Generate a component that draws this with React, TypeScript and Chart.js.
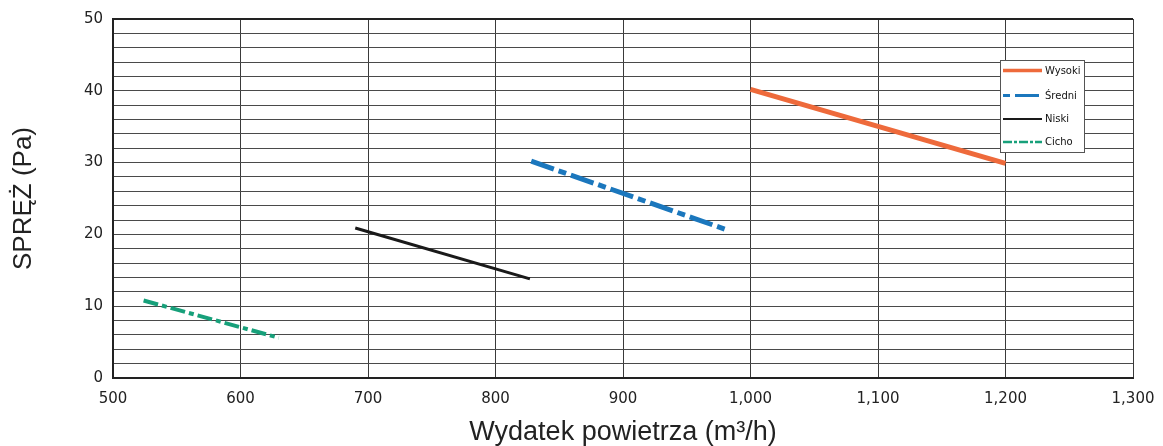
import React, { useEffect, useRef } from "react";
import { Chart, registerables } from "chart.js";

Chart.register(...registerables);

const FONT = "'Liberation Sans', Arial, sans-serif";
const WIDE = "'DejaVu Sans', Verdana, sans-serif";

const seriesNames = ["Wysoki", "Średni", "Niski", "Cicho"];
const seriesColors = ["#ee6a3b", "#1b77bd", "#1a1a1a", "#17a07a"];
const seriesWidths = [5, 5, 3, 4];
const seriesDashes: number[][] = [[], [24, 5, 8, 5], [], [15, 4, 5, 4]];
const legendDashes: number[][] = [[], [7, 5, 24, 5], [], [9, 2, 3, 2]];
const legendWidths = [3.5, 3, 2, 2.5];

const wysokiX = [1000, 1200];
const wysokiY = [40.2, 29.9];
const sredniX = [828, 982];
const sredniY = [30.2, 20.6];
const niskiX = [690, 827];
const niskiY = [20.9, 13.8];
const cichoX = [524, 630];
const cichoY = [10.8, 5.6];

const xValues = [wysokiX, sredniX, niskiX, cichoX];
const yValues = [wysokiY, sredniY, niskiY, cichoY];

const xMin = 500, xMax = 1300, xStep = 100;
const yMin = 0, yMax = 50, yStep = 2, yLabelStep = 10;

const xTitle = "Wydatek powietrza (m³/h)";
const yTitle = "SPRĘŻ (Pa)";

const legendPlugin = {
  id: "boxLegend",
  afterDraw(chart: any) {
    const ctx = chart.ctx;
    const area = chart.chartArea;
    ctx.save();
    ctx.strokeStyle = "#222";
    ctx.lineWidth = 2;
    ctx.beginPath();
    ctx.moveTo(area.left, area.top);
    ctx.lineTo(area.right, area.top);
    ctx.stroke();

    const x0 = 1000, y0 = 60, w = 84, h = 92;
    const rows = [70.5, 95.5, 119, 142];
    ctx.fillStyle = "#ffffff";
    ctx.fillRect(x0, y0, w, h);
    ctx.strokeStyle = "#555";
    ctx.lineWidth = 1;
    ctx.strokeRect(x0 + 0.5, y0 + 0.5, w, h);
    seriesNames.forEach((name, i) => {
      ctx.beginPath();
      ctx.strokeStyle = seriesColors[i];
      ctx.lineWidth = legendWidths[i];
      ctx.setLineDash(legendDashes[i]);
      ctx.moveTo(x0 + 3, rows[i]);
      ctx.lineTo(x0 + 42, rows[i]);
      ctx.stroke();
      ctx.setLineDash([]);
      ctx.fillStyle = "#111";
      ctx.font = `10px ${WIDE}`;
      ctx.textBaseline = "middle";
      ctx.textAlign = "left";
      ctx.fillText(name, x0 + 45, rows[i] + 0.5);
    });
    ctx.restore();
  },
};

export default function App() {
  const ref = useRef<HTMLCanvasElement>(null);
  useEffect(() => {
    const datasets = seriesNames.map((name, i) => ({
      label: name,
      data: xValues[i].map((x, j) => ({ x, y: yValues[i][j] })),
      borderColor: seriesColors[i],
      backgroundColor: seriesColors[i],
      borderWidth: seriesWidths[i],
      borderDash: seriesDashes[i],
      pointRadius: 0,
      fill: false,
      tension: 0,
    }));
    const chart = new Chart(ref.current as HTMLCanvasElement, {
      type: "line",
      data: { datasets },
      plugins: [legendPlugin],
      options: {
        animation: false,
        responsive: false,
        maintainAspectRatio: false,
        layout: { padding: { top: 17, right: 30, left: 0, bottom: 0 } },
        plugins: { legend: { display: false }, tooltip: { enabled: false }, title: { display: false } },
        scales: {
          x: {
            type: "linear",
            min: xMin,
            max: xMax,
            afterFit: (s: any) => { s.height = 68; s.paddingRight = 0; s.paddingLeft = 0; },
            ticks: {
              stepSize: xStep,
              padding: 12,
              color: "#222",
              font: { family: WIDE, size: 15 },
              callback: (v: any) => Number(v).toLocaleString("en-US"),
              maxRotation: 0,
            },
            grid: { color: "#3a3a3a", lineWidth: 1, drawTicks: false },
            border: { color: "#222", width: 2 },
            title: {
              display: true,
              text: xTitle,
              color: "#222",
              font: { family: FONT, size: 27, lineHeight: 1 },
              padding: { top: 0, bottom: 0 },
            },
          },
          y: {
            type: "linear",
            min: yMin,
            max: yMax,
            afterFit: (s: any) => { s.width = 113; },
            ticks: {
              stepSize: yStep,
              autoSkip: false,
              padding: 10,
              color: "#222",
              font: { family: WIDE, size: 15 },
              callback: (v: any) => (Number(v) % yLabelStep === 0 ? String(v) : ""),
            },
            grid: { color: "#4a4a4a", lineWidth: 1, drawTicks: false },
            border: { color: "#222", width: 2 },
            title: {
              display: true,
              text: yTitle,
              color: "#222",
              font: { family: FONT, size: 26 },
              padding: { top: 8, bottom: 0 },
            },
          },
        },
      },
    } as any);
    return () => chart.destroy();
  }, []);
  return (
    <div style={{ position: "absolute", left: 0, top: 0, width: 1163, height: 446, background: "#fff" }}>
      <canvas ref={ref} width={1163} height={446} style={{ display: "block" }} />
    </div>
  );
}
